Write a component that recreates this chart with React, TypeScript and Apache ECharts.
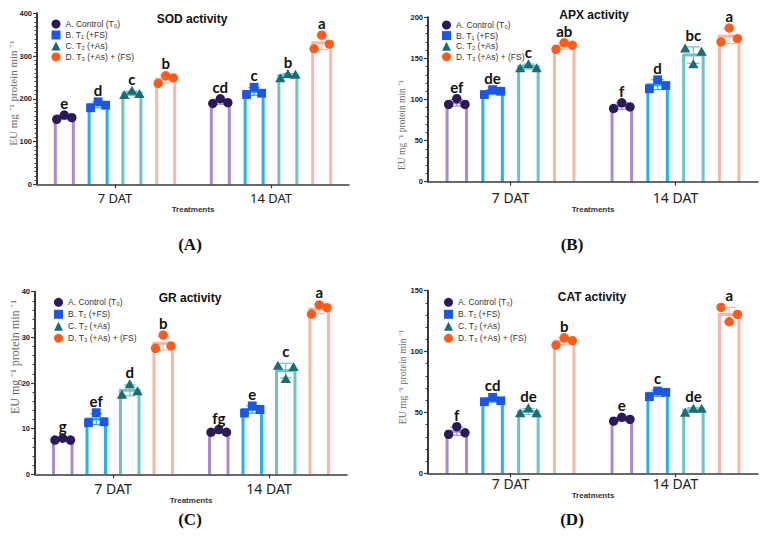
import React, { useEffect, useRef } from "react";
import * as echarts from "echarts";

const CATEGORIES = ["7 DAT", "14 DAT"];
const TREATMENTS = ["A. Control (T₀)", "B. T₁ (+FS)", "C. T₂ (+As)", "D. T₃ (+As) + (FS)"];
const BAR_COLORS = ["#A88AD6", "#1DB3F4", "#6CC4C8", "#F6B8A4"];
const DOT_COLORS = ["#2B1A57", "#1F55E3", "#1C6D73", "#FF5B1C"];
const MARKERS = ["circle", "rect", "triangle", "circle"];

// (A) SOD — per treatment: [7 DAT, 14 DAT]
const SOD_MEAN = [[157, 193], [186, 217], [213, 254], [246, 331]];
const SOD_SD = [[5, 6], [7, 9], [5, 5], [9, 16]];
const SOD_REPS = [
  [[152, 162, 156], [189, 200, 191]],
  [[179, 193, 185], [210, 227, 213]],
  [[209, 219, 211], [248, 258, 256]],
  [[236, 254, 249], [317, 349, 328]],
];
const SOD_LETTERS = [["e", "cd"], ["d", "c"], ["c", "b"], ["b", "a"]];

// (B) APX
const APX_MEAN = [[96, 92], [109, 118], [140, 154], [165, 177]];
const APX_SD = [[4, 4], [3, 6], [3, 10], [4, 9]];
const APX_REPS = [
  [[94, 101, 94], [89, 96, 91]],
  [[106, 112, 110], [113, 124, 117]],
  [[138, 143, 138], [162, 143, 158]],
  [[161, 169, 166], [170, 187, 174]],
];
const APX_LETTERS = [["ef", "f"], ["de", "d"], ["c", "bc"], ["ab", "a"]];

// (C) GR
const GR_MEAN = [[7.7, 9.4], [12.1, 14.2], [18.4, 22.7], [28.7, 36.2]];
const GR_SD = [[0.3, 0.35], [1.2, 0.8], [1.2, 1.6], [1.5, 1.0]];
const GR_REPS = [
  [[7.5, 7.9, 7.5], [9.2, 9.8, 9.2]],
  [[11.3, 13.5, 11.5], [13.4, 15.0, 14.2]],
  [[17.4, 19.7, 18.2], [23.8, 20.9, 23.5]],
  [[27.6, 30.5, 28.1], [35.1, 37.1, 36.5]],
];
const GR_LETTERS = [["g", "fg"], ["ef", "e"], ["d", "c"], ["b", "a"]];

// (D) CAT
const CAT_MEAN = [[34.5, 44.4], [60.3, 65.7], [50.7, 52], [108.5, 130.4]];
const CAT_SD = [[3.3, 1.6], [1.9, 2.5], [2.4, 1.8], [3, 5.9]];
const CAT_REPS = [
  [[32.0, 38.3, 33.3], [42.9, 46.0, 44.3]],
  [[58.8, 62.4, 59.6], [62.9, 67.6, 66.5]],
  [[49.3, 53.4, 49.3], [49.8, 53.0, 53.0]],
  [[105.3, 111.3, 108.9], [136.3, 124.5, 130.5]],
];
const CAT_LETTERS = [["f", "e"], ["cd", "c"], ["de", "de"], ["b", "a"]];

const Y_NAME = "EU mg ⁻¹ protein min ⁻¹";
const X_NAME = "Treatments";

const PANELS = [
  {
    tag: "(A)", title: "SOD activity", mean: SOD_MEAN, sd: SOD_SD, reps: SOD_REPS, letters: SOD_LETTERS,
    yMax: 400, yStep: 100, minor: 10,
    grid: { left: 37, top: 13.3, width: 312, height: 171 }, barW: 18, pitch: 33.8,
    legend: { left: 51.5, top: 19.5, gap: 2 }, titlePos: [192, 18.5], yName: [13, 93, 11],
    tagPos: [190, 244], catFont: 13, catMargin: 7, nameGap: 15.5,
  },
  {
    tag: "(B)", title: "APX activity", mean: APX_MEAN, sd: APX_SD, reps: APX_REPS, letters: APX_LETTERS,
    yMax: 200, yStep: 50, minor: 5,
    grid: { left: 428, top: 17.3, width: 330, height: 164.4 }, barW: 19.5, pitch: 35.8,
    legend: { left: 442, top: 20.5, gap: 1.6 }, titlePos: [594, 15], yName: [402, 125, 9.5],
    tagPos: [572, 244], catFont: 14, catMargin: 9, nameGap: 14.5,
  },
  {
    tag: "(C)", title: "GR activity", mean: GR_MEAN, sd: GR_SD, reps: GR_REPS, letters: GR_LETTERS,
    yMax: 40, yStep: 10, minor: 5,
    grid: { left: 35, top: 291.7, width: 312, height: 182.6 }, barW: 18.5, pitch: 33.5,
    legend: { left: 54, top: 297.8, gap: 3 }, titlePos: [190, 297.5], yName: [15, 357, 12],
    tagPos: [190, 519], catFont: 14, catMargin: 7, nameGap: 16.5,
  },
  {
    tag: "(D)", title: "CAT activity", mean: CAT_MEAN, sd: CAT_SD, reps: CAT_REPS, letters: CAT_LETTERS,
    yMax: 150, yStep: 50, minor: 5,
    grid: { left: 428, top: 290.7, width: 330, height: 182.6 }, barW: 19.5, pitch: 35.8,
    legend: { left: 444, top: 297.8, gap: 3 }, titlePos: [592, 297], yName: [402, 377, 10],
    tagPos: [572, 519], catFont: 14, catMargin: 3, nameGap: 16.5,
  },
];

function buildOption() {
  const series: any[] = [];
  PANELS.forEach((p, pi) => {
    TREATMENTS.forEach((name, t) => {
      series.push({
        type: "bar",
        name: name + " bar",
        xAxisIndex: pi,
        yAxisIndex: pi,
        data: p.mean[t],
        barWidth: p.barW,
        barGap: ((p.pitch / p.barW - 1) * 100).toFixed(1) + "%",
        itemStyle: { color: "#ffffff", borderWidth: 0 },
        silent: true,
        z: 2,
      });
    });
    TREATMENTS.forEach((name, t) => {
      const data = CATEGORIES.map((_, ci) => [ci, p.mean[t][ci], p.sd[t][ci], ...p.reps[t][ci]]);
      series.push({
        type: "custom",
        name,
        xAxisIndex: pi,
        yAxisIndex: pi,
        itemStyle: { color: DOT_COLORS[t] },
        encode: { x: 0, y: 1 },
        z: 4,
        data,
        renderItem: (params: any, api: any) => {
          const ci = api.value(0);
          const mean = api.value(1);
          const sd = api.value(2);
          const reps = [api.value(3), api.value(4), api.value(5)];
          const base = api.coord([ci, mean]);
          const y0 = api.coord([ci, 0])[1];
          const cx = base[0] + (t - 1.5) * p.pitch;
          const hw = p.barW / 2;
          const yTop = api.coord([ci, mean + sd])[1];
          const yBot = api.coord([ci, mean - sd])[1];
          const cap = p.barW * 0.32;
          const eStyle = { stroke: BAR_COLORS[t], lineWidth: 1.2 };
          const children: any[] = [
            {
              type: "polyline",
              shape: { points: [[cx - hw, y0], [cx - hw, base[1]], [cx + hw, base[1]], [cx + hw, y0]] },
              style: { stroke: BAR_COLORS[t], lineWidth: 3, fill: null, lineJoin: "miter" },
            },
            { type: "line", shape: { x1: cx, y1: yTop, x2: cx, y2: yBot }, style: eStyle },
            { type: "line", shape: { x1: cx - cap, y1: yTop, x2: cx + cap, y2: yTop }, style: eStyle },
            { type: "line", shape: { x1: cx - cap, y1: yBot, x2: cx + cap, y2: yBot }, style: eStyle },
          ];
          reps.forEach((v: number, j: number) => {
            const y = api.coord([ci, v])[1];
            const x = cx + (j - 1) * p.barW * 0.42;
            const st = { fill: DOT_COLORS[t] };
            if (MARKERS[t] === "circle") {
              children.push({ type: "circle", shape: { cx: x, cy: y, r: 4.7 }, style: st });
            } else if (MARKERS[t] === "rect") {
              children.push({ type: "rect", shape: { x: x - 4.4, y: y - 4.4, width: 8.8, height: 8.8 }, style: st });
            } else {
              children.push({
                type: "polygon",
                shape: { points: [[x, y - 5], [x - 5.2, y + 4], [x + 5.2, y + 4]] },
                style: st,
              });
            }
          });
          const topV = Math.max(reps[0], reps[1], reps[2], mean + sd);
          const ly = api.coord([ci, topV])[1] - 12;
          children.push({
            type: "text",
            x: cx,
            y: ly,
            style: {
              text: p.letters[t][ci],
              fill: "#111",
              font: "bold 15px Lato",
              lineHeight: 12,
              textAlign: "center",
              textVerticalAlign: "middle",
              align: "center",
              verticalAlign: "middle",
            },
          });
          return { type: "group", children };
        },
      });
    });
  });

  const graphic: any[] = [];
  PANELS.forEach((p) => {
    graphic.push({
      type: "text",
      x: p.titlePos[0],
      y: p.titlePos[1],
      silent: true,
      style: {
        text: p.title, fill: "#111", font: "bold 12px 'Liberation Sans'", lineHeight: 11,
        textAlign: "center", textVerticalAlign: "middle", align: "center", verticalAlign: "middle",
      },
    });
    graphic.push({
      type: "text",
      x: p.yName[0],
      y: p.yName[1],
      rotation: Math.PI / 2,
      silent: true,
      style: {
        text: Y_NAME, fill: "#6a6a6a", font: `${p.yName[2]}px 'Liberation Serif'`,
        textAlign: "center", textVerticalAlign: "middle", align: "center", verticalAlign: "middle",
      },
    });
    graphic.push({
      type: "text",
      x: p.tagPos[0],
      y: p.tagPos[1],
      silent: true,
      style: {
        text: p.tag, fill: "#111", font: "bold 17px 'Liberation Serif'",
        textAlign: "center", textVerticalAlign: "middle", align: "center", verticalAlign: "middle",
      },
    });
  });

  return {
    animation: false,
    backgroundColor: "#ffffff",
    grid: PANELS.map((p) => ({ ...p.grid, containLabel: false })),
    xAxis: PANELS.map((p, pi) => ({
      type: "category",
      gridIndex: pi,
      data: CATEGORIES,
      z: 5,
      axisLine: { show: true, lineStyle: { color: "#3a3a3a", width: 1.5 } },
      axisTick: { show: true, alignWithLabel: true, length: 4, lineStyle: { color: "#3a3a3a", width: 1.2 } },
      axisLabel: { fontSize: p.catFont, color: "#222", margin: p.catMargin, fontFamily: "Noto Sans" },
      name: X_NAME,
      nameLocation: "middle",
      nameGap: p.nameGap,
      nameTextStyle: { fontSize: 8, fontWeight: "bold", color: "#333", fontFamily: "Liberation Sans" },
      splitLine: { show: false },
    })),
    yAxis: PANELS.map((p, pi) => ({
      type: "value",
      gridIndex: pi,
      min: 0,
      max: p.yMax,
      interval: p.yStep,
      z: 5,
      axisLine: { show: true, lineStyle: { color: "#3a3a3a", width: 2 } },
      axisTick: { show: true, length: 4, lineStyle: { color: "#3a3a3a", width: 1.2 } },
      minorTick: { show: true, splitNumber: p.minor, length: 2.5, lineStyle: { color: "#3a3a3a", width: 1 } },
      axisLabel: { fontSize: 7.5, fontWeight: "bold", color: "#222", margin: 5, fontFamily: "Liberation Sans" },
      splitLine: { show: false },
      minorSplitLine: { show: false },
    })),
    legend: PANELS.map((p) => ({
      orient: "vertical",
      left: p.legend.left,
      top: p.legend.top,
      padding: 0,
      itemWidth: 9,
      itemHeight: 9,
      itemGap: p.legend.gap,
      selectedMode: false,
      textStyle: { fontSize: 8.5, color: "#333", fontFamily: "Liberation Sans", lineHeight: 9 },
      data: TREATMENTS.map((n, k) => ({ name: n, icon: MARKERS[k], itemStyle: { color: DOT_COLORS[k] } })),
    })),
    series,
    graphic,
  };
}

export default function App() {
  const ref = useRef<HTMLDivElement>(null);
  useEffect(() => {
    document.body.style.margin = "0";
    if (!ref.current) return;
    const chart = echarts.init(ref.current, undefined, { renderer: "svg" });
    chart.setOption(buildOption() as any);
    return () => chart.dispose();
  }, []);
  return <div ref={ref} style={{ width: 763, height: 546 }} />;
}
